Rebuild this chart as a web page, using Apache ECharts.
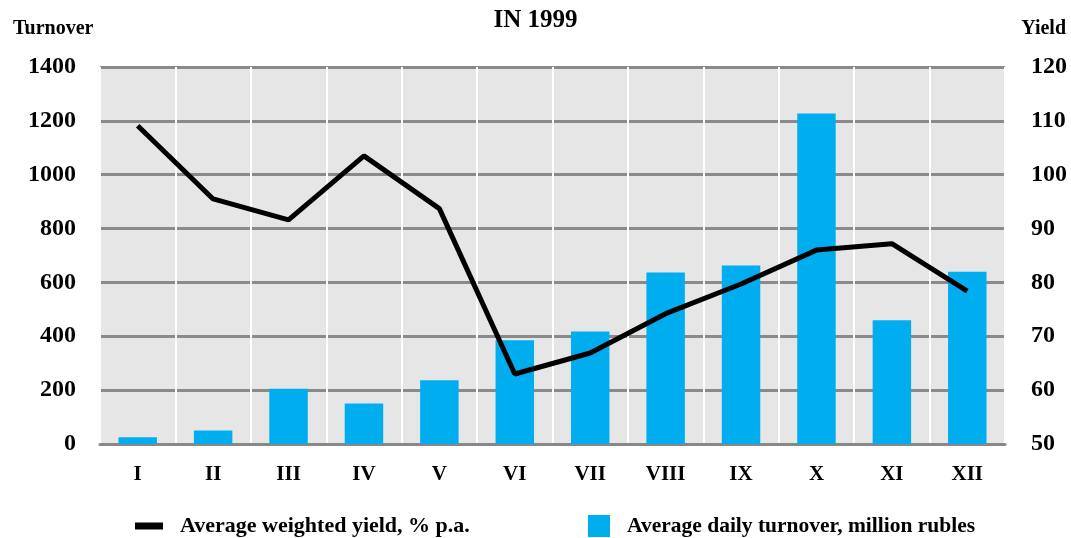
<!DOCTYPE html>
<html>
<head>
<meta charset="utf-8">
<script src="https://cdn.jsdelivr.net/npm/echarts@6/dist/echarts.min.js"></script>
<style>
  html, body { margin: 0; padding: 0; background: #fff; }
  #chart { width: 1071px; height: 538px; }
</style>
</head>
<body>
<div id="chart"></div>
<script>
// Monthly turnover (bars, left axis) and weighted yield (line, right axis), 1999.
const months = ["I", "II", "III", "IV", "V", "VI", "VII", "VIII", "IX", "X", "XI", "XII"];
const turnover = [25, 50, 205, 150, 237, 385, 418, 637, 663, 1227, 460, 640];
const yieldPct = [109.1, 95.5, 91.6, 103.5, 93.7, 63, 66.9, 74.2, 79.7, 86, 87.2, 78.4];
const turnoverTicks = { min: 0, max: 1400, interval: 200 };
const yieldTicks = { min: 50, max: 120, interval: 10 };

const FONT = "'Liberation Serif', 'DejaVu Serif', serif";
const lineName = "Average weighted yield, % p.a.";
const barName = "Average daily turnover, million rubles";

const chart = echarts.init(document.getElementById("chart"), null, { renderer: "canvas" });

const labelStyle = { color: "#000", fontFamily: FONT, fontWeight: "bold", fontSize: 24 };
const textStyle = { color: "#000", fontFamily: FONT, fontWeight: "bold", fontSize: 20 };

chart.setOption({
  animation: false,
  title: [
    { text: "IN 1999", left: "center", top: 3, textStyle: { ...textStyle, fontSize: 25 } },
    { text: "Turnover", left: 8, top: 14, textStyle },
    { text: "Yield", right: 0, top: 14, textStyle },
  ],
  legend: [
    {
      data: [{ name: lineName, icon: "rect", itemStyle: { color: "#000" } }],
      left: 130, top: 510, itemWidth: 28, itemHeight: 7,
      textStyle: { ...textStyle, fontSize: 22, padding: [0, 0, 0, 12] },
    },
    {
      data: [{ name: barName, icon: "rect" }],
      left: 583, top: 510, itemWidth: 22, itemHeight: 22,
      textStyle: { ...textStyle, fontSize: 21.5, padding: [0, 0, 0, 12] },
    },
  ],
  grid: {
    left: 100, right: 66, top: 67, bottom: 94,
    show: true, backgroundColor: "#e6e6e6", borderWidth: 0,
  },
  xAxis: {
    type: "category",
    data: months,
    boundaryGap: true,
    axisTick: { show: false },
    axisLine: { lineStyle: { color: "#888", width: 3 } },
    splitLine: { show: true, lineStyle: { color: "#fff", width: 2 } },
    axisLabel: { ...labelStyle, fontSize: 21, margin: 20 },
  },
  yAxis: [
    {
      type: "value",
      ...turnoverTicks,
      axisLine: { show: false },
      axisTick: { show: false },
      axisLabel: { ...labelStyle, margin: 24, formatter: (v) => String(v) },
      splitLine: { lineStyle: { color: "#8a8a8a", width: 3 } },
    },
    {
      type: "value",
      position: "right",
      ...yieldTicks,
      axisLine: { show: false },
      axisTick: { show: false },
      axisLabel: { ...labelStyle, margin: 26, formatter: (v) => String(v) },
      splitLine: { show: false },
    },
  ],
  series: [
    {
      name: barName,
      type: "bar",
      data: turnover,
      yAxisIndex: 0,
      barWidth: "51%",
      itemStyle: { color: "#00aeef" },
      z: 3,
    },
    {
      name: lineName,
      type: "line",
      data: yieldPct,
      yAxisIndex: 1,
      symbol: "none",
      lineStyle: { color: "#000", width: 5 },
      itemStyle: { color: "#000" },
      z: 4,
    },
  ],
});
</script>
</body>
</html>
